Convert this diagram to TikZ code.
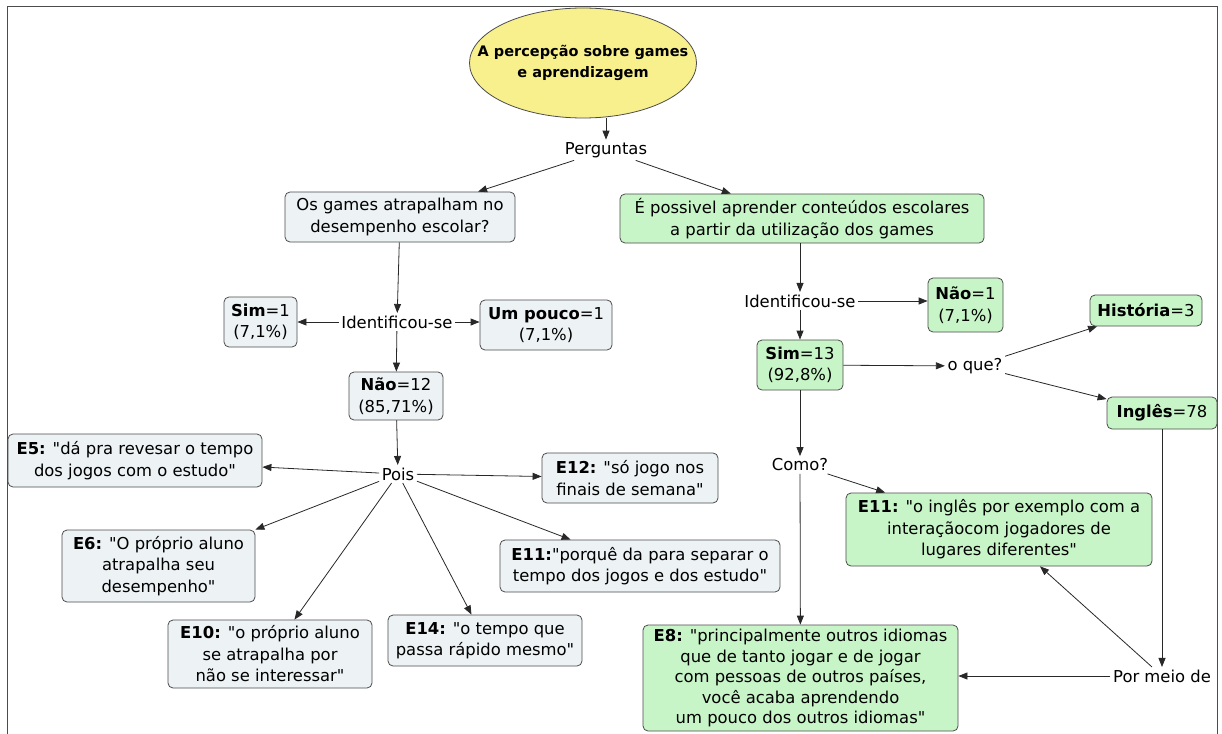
\documentclass[tikz,border=0pt]{standalone}
\usepackage{fontspec}
\setmainfont{DejaVu Sans}[Ligatures=TeXOff]
\usetikzlibrary{arrows.meta,shapes.geometric}
\definecolor{cmgray}{RGB}{237,242,245}
\definecolor{cmgreen}{RGB}{200,245,200}
\definecolor{cmyellow}{RGB}{248,240,140}
\definecolor{cmline}{RGB}{40,40,40}
\begin{document}
\begin{tikzpicture}[x=1pt,y=-1pt,
  font=\fontsize{16.4}{21.5}\selectfont,
  box/.style={draw=black!70, line width=0.8pt, rounded corners=5pt, align=center, inner sep=0pt},
  graybox/.style={box, fill=cmgray},
  greenbox/.style={box, fill=cmgreen},
  lnk/.style={inner sep=2.5pt},
  arr/.style={draw=cmline, line width=0.8pt, -{Triangle[length=9pt,width=7pt]}},
]
% page area and open frame
\clip (0,0) rectangle (1222,733);
\fill[white] (0,0) rectangle (1222,733);
\draw[black!70, line width=1pt] (7,740) -- (7,7) -- (1217,7) -- (1217,740);

% central concept
\node[ellipse, draw=black!70, line width=0.8pt, fill=cmyellow, minimum width=227pt, minimum height=110pt,
      inner xsep=-30pt, inner ysep=0pt, align=center, font=\bfseries\fontsize{14.5}{21}\selectfont] (ell) at (583,63)
      {A percepção sobre games\\e aprendizagem};
\node[lnk] (perg) at (606,150) {Perguntas};

% questions
\node[graybox, minimum width=230pt, minimum height=50pt] (q1) at (400,217)
      {Os games atrapalham no\\desempenho escolar?};
\node[greenbox, minimum width=364pt, minimum height=49pt] (q2) at (802,218.5)
      {É possivel aprender conteúdos escolares\\a partir da utilização dos games};

% left branch
\node[lnk] (id1) at (397,322) {Identificou-se};
\node[graybox, minimum width=73pt, minimum height=50pt] (sim1) at (260.5,322)
      {\textbf{Sim}=1\\(7,1\%)};
\node[graybox, minimum width=132pt, minimum height=50pt] (pouco) at (546,325)
      {\textbf{Um pouco}=1\\(7,1\%)};
\node[graybox, minimum width=94pt, minimum height=48pt] (nao12) at (396,396)
      {\textbf{Não}=12\\(85,71\%)};
\node[lnk] (pois) at (398,474) {Pois};
\node[graybox, minimum width=254pt, minimum height=53pt] (e5) at (135,460.5)
      {\textbf{E5:} "dá pra revesar o tempo\\dos jogos com o estudo"};
\node[graybox, minimum width=176pt, minimum height=50pt] (e12) at (630,478)
      {\textbf{E12:} "só jogo nos\\finais de semana"};
\node[graybox, minimum width=193pt, minimum height=72pt] (e6) at (158.5,566)
      {\textbf{E6:} "O próprio aluno\\atrapalha seu\\desempenho"};
\node[graybox, minimum width=280pt, minimum height=52pt] (e11l) at (640,566)
      {\textbf{E11:}"porquê da para separar o\\tempo dos jogos e dos estudo"};
\node[graybox, minimum width=204pt, minimum height=68pt] (e10) at (270,654)
      {\textbf{E10:} "o próprio aluno\\se atrapalha por\\não se interessar"};
\node[graybox, minimum width=194pt, minimum height=51pt] (e14) at (485,640.5)
      {\textbf{E14:} "o tempo que\\passa rápido mesmo"};

% right branch
\node[lnk] (id2) at (800,301) {Identificou-se};
\node[greenbox, minimum width=75pt, minimum height=54pt] (nao1) at (965.5,305)
      {\textbf{Não}=1\\(7,1\%)};
\node[greenbox, minimum width=86pt, minimum height=50pt] (sim13) at (800,365)
      {\textbf{Sim}=13\\(92,8\%)};
\node[lnk] (oque) at (975,366) {o que?};
\node[greenbox, minimum width=112pt, minimum height=31pt] (hist) at (1146,310.5)
      {\textbf{História}=3};
\node[greenbox, minimum width=110pt, minimum height=32pt] (ingl) at (1162,413)
      {\textbf{Inglês}=78};
\node[lnk] (como) at (800,465) {Como?};
\node[greenbox, minimum width=306pt, minimum height=73pt] (e11r) at (999,529.5)
      {\textbf{E11:} "o inglês por exemplo com a\\interaçãocom jogadores de\\lugares diferentes"};
\node[greenbox, minimum width=315pt, minimum height=106pt, font=\fontsize{16.4}{20.5}\selectfont] (e8) at (800.5,678)
      {\textbf{E8:} "principalmente outros idiomas\\que de tanto jogar e de jogar\\com pessoas de outros países,\\você acaba aprendendo\\um pouco dos outros idiomas"};
\node[lnk] (pormeio) at (1162,676) {Por meio de};

% connectors
\draw[arr] (perg.north |- ell.south) -- (perg.north);
\draw[arr] (perg) -- (q1);
\draw[arr] (perg) -- (q2);

\draw[arr] (q1) -- (id1);
\draw[arr] (id1.west) -- (id1.west -| sim1.east);
\draw[arr] (id1.east) -- (id1.east -| pouco.west);
\draw[arr] (id1) -- (nao12);
\draw[arr] (nao12) -- (pois);
\draw[arr] (pois) -- (e5);
\draw[arr] (pois) -- (e12);
\draw[arr] (pois) -- (e6.north east);
\draw[arr] (pois) -- (e10);
\draw[arr] (pois) -- (e14);
\draw[arr] (pois) -- (e11l);

\draw[arr] (q2.south -| id2.north) -- (id2);
\draw[arr] (id2.east) -- (id2.east -| nao1.west);
\draw[arr] (id2) -- (sim13);
\draw[arr] (sim13) -- (oque);
\draw[arr] (oque) -- (hist);
\draw[arr] (oque) -- (ingl);
\draw[arr] (sim13) -- (como);
\draw[arr] (como) -- (e11r);
\draw[arr] (como) -- (e8);
\draw[arr] (ingl) -- (pormeio);
\draw[arr] (pormeio.west) -- (pormeio.west -| e8.east);
\draw[arr] (pormeio) -- (e11r);
\end{tikzpicture}
\end{document}
